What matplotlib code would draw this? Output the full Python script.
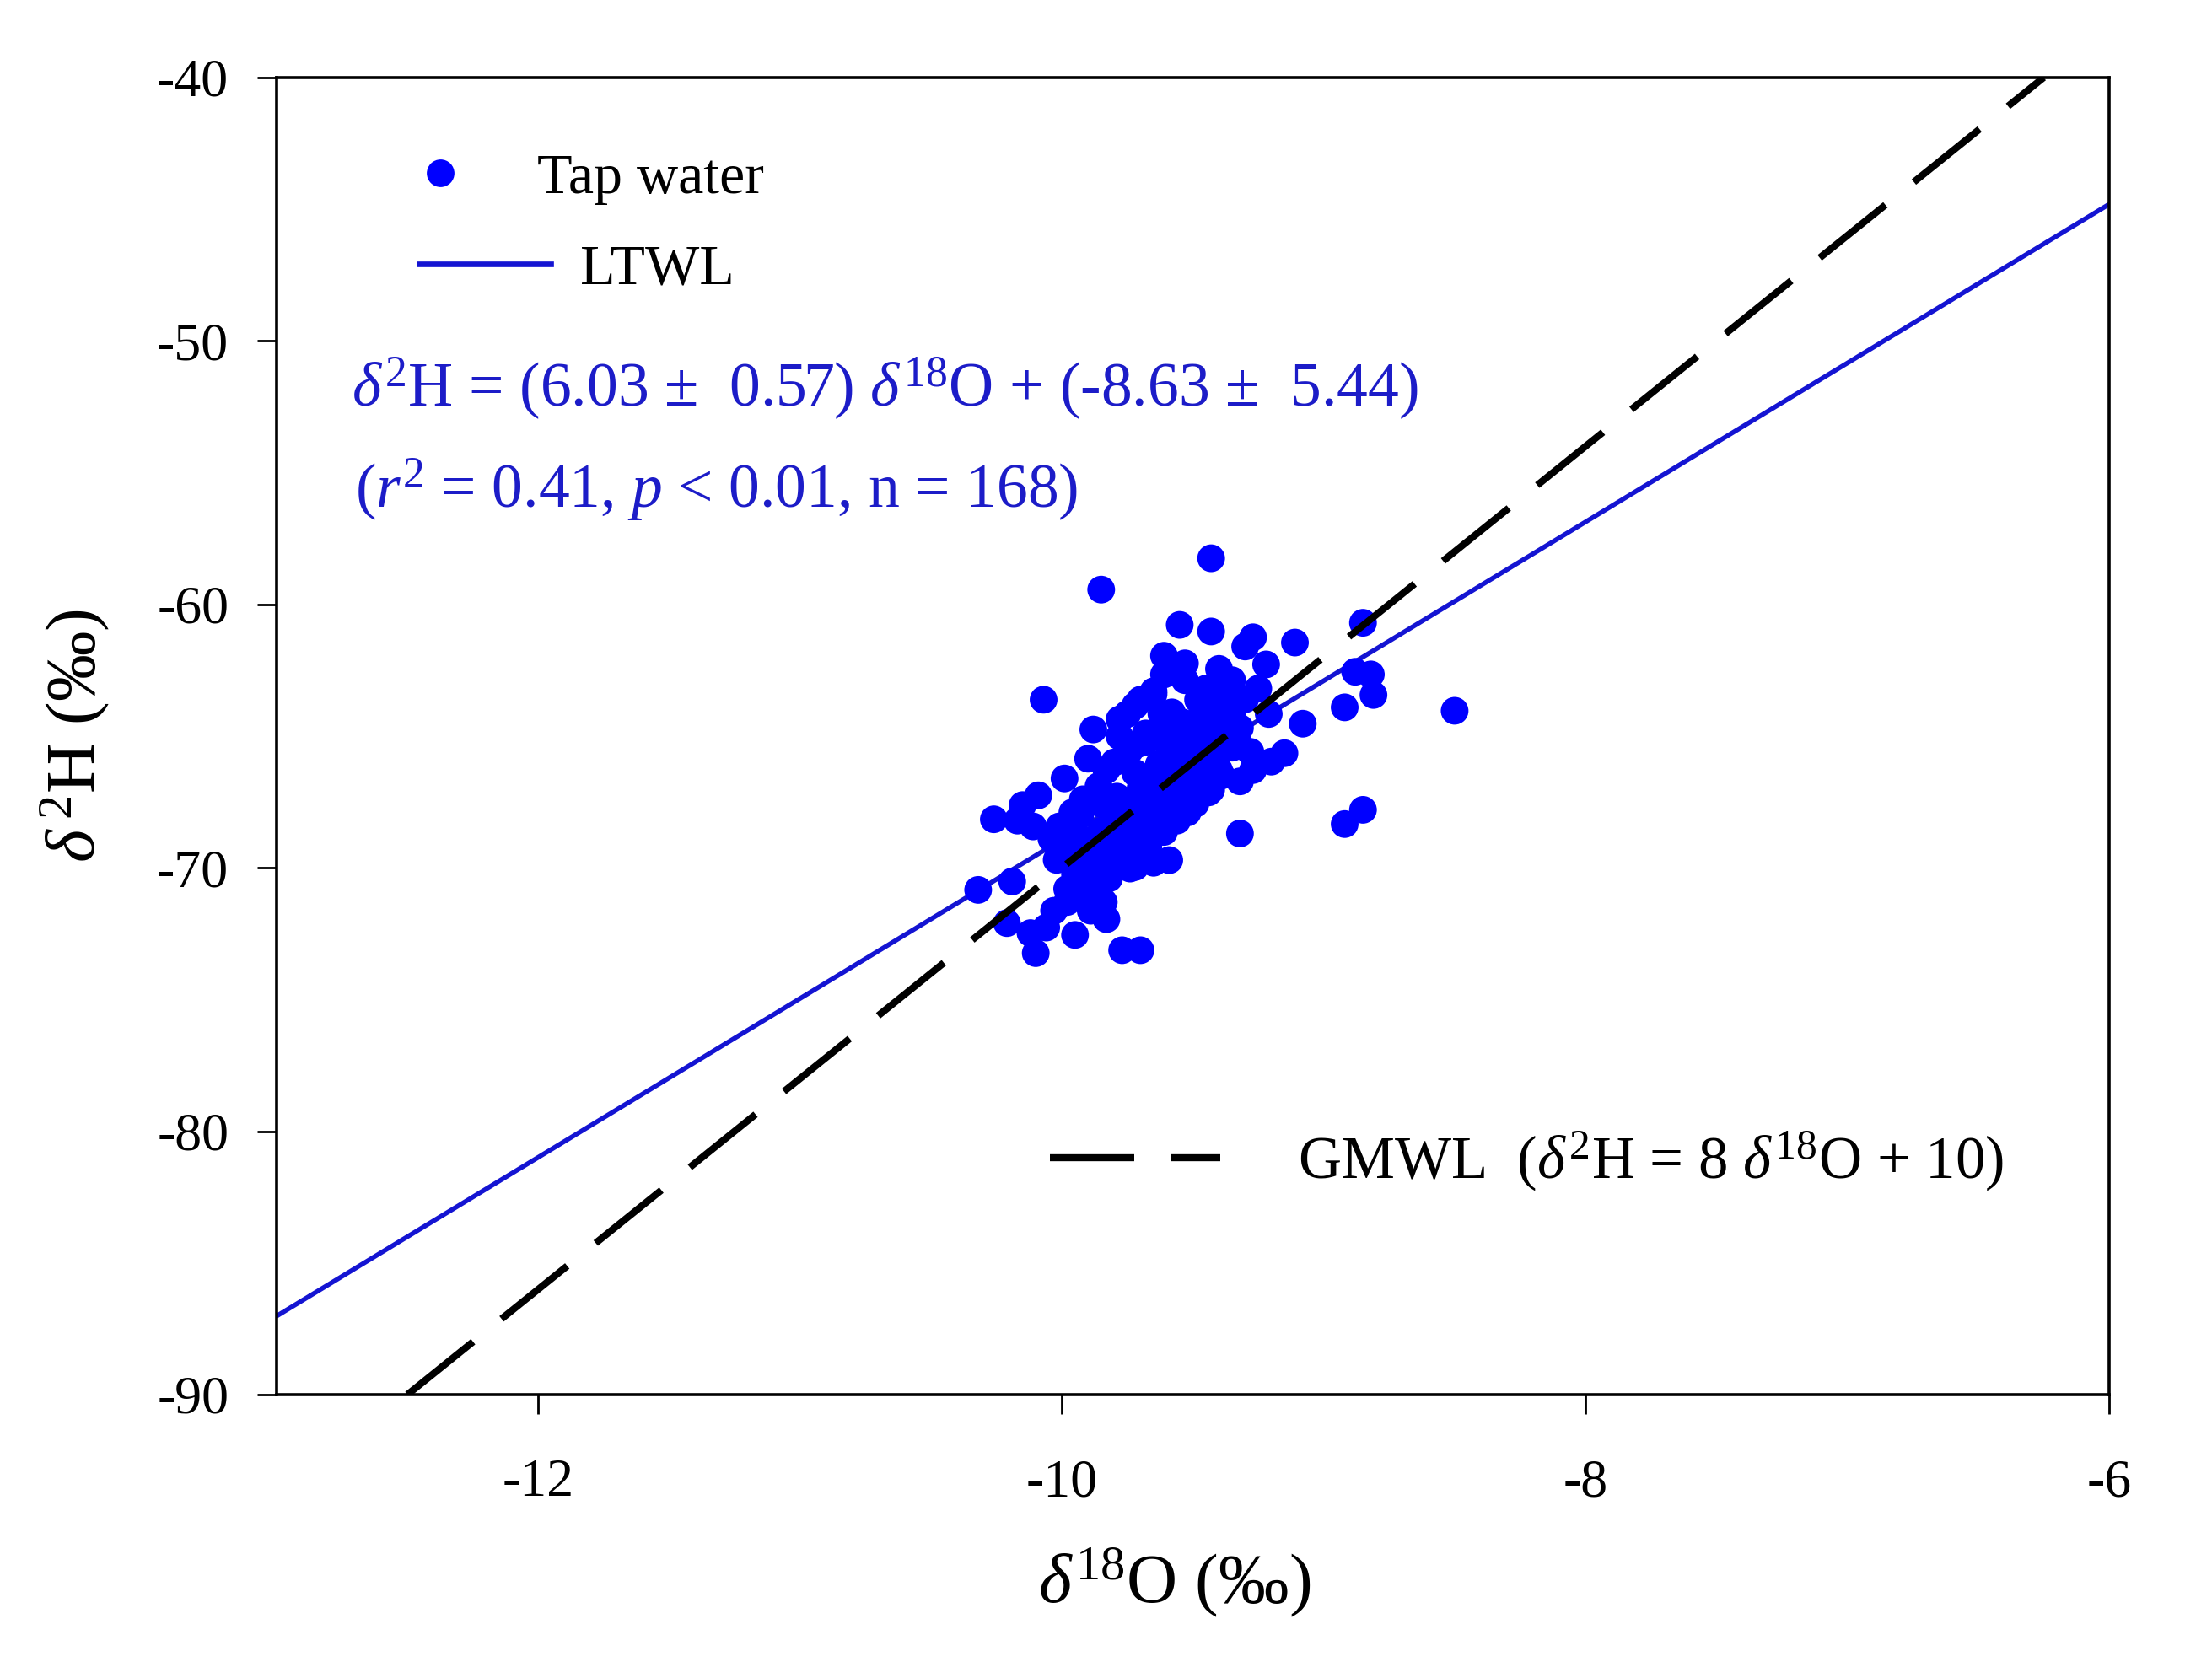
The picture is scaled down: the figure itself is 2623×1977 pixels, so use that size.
import matplotlib
matplotlib.use('Agg')
import matplotlib.pyplot as plt
from matplotlib.lines import Line2D
import numpy as np

plt.rcParams['font.family'] = ['Liberation Serif', 'DejaVu Serif']
plt.rcParams['mathtext.fontset'] = 'custom'
plt.rcParams['mathtext.rm'] = 'Liberation Serif'
plt.rcParams['mathtext.it'] = 'Liberation Serif:italic'
plt.rcParams['axes.unicode_minus'] = False

# tap water samples
d18O = [
    -9.43, -9.85, -9.55, -9.43, -9.27, -9.30, -9.11, -8.85, -9.22, -9.61,
    -10.07, -8.88, -8.82, -8.81, -8.92, -8.50, -9.08, -9.88, -9.32, -8.85,
    -8.92, -10.26, -10.32, -10.19, -10.10, -9.77, -9.70,
    -9.90, -9.99, -10.09, -10.15, -10.12, -10.21, -9.95, -9.83, -9.89,
    -9.59, -9.65, -9.72, -9.78, -9.65, -9.72, -9.78, -9.78, -9.62, -9.56,
    -9.49, -9.42, -9.40, -9.61, -9.53,
    -10.01, -9.93, -9.85, -9.90, -9.95, -9.95, -9.93, -10.03, -10.06, -9.83,
    -9.74, -9.68, -9.63, -9.69, -9.79, -9.55, -9.59, -9.63, -9.69, -9.74,
    -9.79, -9.47, -9.42, -9.39, -9.44, -9.49, -9.56, -9.61, -10.11, -10.17,
    -9.53, -9.40, -9.35, -9.45, -9.48, -9.25, -9.21, -9.15, -9.20, -9.27,
    -9.32, -9.43, -9.50, -9.59, -9.70, -9.65,
    -9.75, -9.68, -9.76, -9.61, -9.54, -9.46, -9.37, -9.32, -9.35, -9.43,
    -9.50, -9.59, -9.72, -9.54, -9.48, -9.40, -9.59, -9.70, -9.64, -9.75,
    -9.74, -9.70,
    -9.90, -9.85, -9.80, -9.75, -9.70, -9.65, -9.60, -9.55, -9.50, -9.45,
    -9.40, -9.35, -9.30, -9.95, -9.88, -9.98, -10.00, -9.97, -9.86, -9.82,
    -9.78, -9.72, -9.68, -9.62, -9.57, -9.52, -9.47, -9.43, -9.38, -9.33,
    -9.28, -9.58, -9.60, -9.71, -9.80, -9.86, -9.92, -9.96, -10.04, -10.02,
    -9.90, -9.84, -9.98, -9.92, -9.82, -9.76, -9.67, -9.52,
]
d2H = [
    -58.25, -59.44, -60.78, -61.03, -61.25, -61.60, -61.45, -60.70, -62.28, -61.95,
    -63.62, -62.56, -62.66, -63.44, -63.91, -64.04, -64.53, -64.75, -68.70, -67.80,
    -68.34, -68.16, -70.84, -70.52, -73.24, -73.13, -73.13,
    -65.86, -66.61, -67.25, -67.62, -72.48, -72.10, -72.55, -71.95, -71.63,
    -69.71, -69.81, -69.97, -69.92, -63.41, -63.84, -64.37, -65.01, -64.16, -64.80,
    -64.48, -63.84, -62.88, -62.66, -62.24,
    -68.43, -68.00, -67.57, -68.96, -69.49, -70.24, -71.09, -71.63, -72.27, -66.29,
    -65.54, -65.22, -66.08, -66.72, -67.30, -66.50, -67.36, -68.00, -68.64, -68.96,
    -69.49, -65.76, -65.22, -66.50, -67.14, -67.57, -68.21, -68.64, -68.43, -68.21,
    -62.88, -62.45, -62.88, -63.20, -63.62, -63.20, -64.16, -65.65, -65.97, -66.29,
    -66.72, -67.04, -67.25, -67.47, -63.62, -63.30,
    -64.16, -64.90, -65.80, -64.48, -64.48, -64.16, -63.84, -64.69, -65.44, -65.54,
    -65.33, -65.44, -66.40, -66.08, -66.40, -66.29, -66.82, -67.36, -67.89, -67.89,
    -70.03, -68.96,
    -69.20, -68.60, -68.30, -67.80, -67.00, -66.50, -65.90, -65.60, -65.00, -64.70,
    -64.30, -64.10, -63.60, -69.90, -70.50, -70.80, -69.10, -68.70, -69.80, -68.90,
    -68.60, -68.20, -67.60, -67.10, -66.90, -66.70, -66.00, -65.90, -65.00, -65.10,
    -65.60, -64.10, -64.80, -65.30, -66.00, -66.90, -67.40, -67.90, -68.90, -69.70,
    -70.90, -71.30, -71.30, -70.60, -70.40, -69.30, -69.20, -67.90,
]

# regression lines
ltwl_slope, ltwl_icpt = 6.03, -8.63
gmwl_slope, gmwl_icpt = 8.0, 10.0

xmin, xmax = -13, -6
ymin, ymax = -90, -40
xticks = [-12, -10, -8, -6]
yticks = [-90, -80, -70, -60, -50, -40]

blue = '#0000ff'
line_blue = '#1414d2'
text_blue = '#1c1cc8'

fig, ax = plt.subplots(figsize=(13.115, 9.885), dpi=200)
fig.subplots_adjust(left=0.125, right=0.9535, bottom=0.1634, top=0.9535)

xl = np.array([xmin, xmax])
ax.plot(xl, ltwl_slope * xl + ltwl_icpt, color=line_blue, lw=2.0, zorder=1.5)

ax.scatter(d18O, d2H, s=140, color=blue, edgecolors='none', zorder=2)

xg = (np.array([ymin, ymax]) - gmwl_icpt) / gmwl_slope
gm, = ax.plot(xg, gmwl_slope * xg + gmwl_icpt, color='black', lw=3.0,
              dashes=(12, 5.2), zorder=3)

ax.set_xlim(xmin, xmax)
ax.set_ylim(ymin, ymax)
ax.set_xticks(xticks)
ax.set_yticks(yticks)
ax.tick_params(direction='out', length=8.4, width=1.0, labelsize=23)
ax.tick_params(axis='x', pad=19)
ax.tick_params(axis='y', pad=12)
for sp in ax.spines.values():
    sp.set_linewidth(1.3)

ax.set_xlabel(r'$\delta^{18}$O (‰)', fontsize=30)
ax.set_ylabel(r'$\delta^{\,2}$H (‰)', fontsize=30)
ax.xaxis.set_label_coords(0.49, -0.115)
ax.yaxis.set_label_coords(-0.09, 0.5)

# legends
h1 = Line2D([], [], ls='none', marker='o', ms=11.8, color=blue, mec='none')
leg1 = ax.legend([h1], ['Tap water'], loc='center left',
                 bbox_to_anchor=(0.0672, 0.9229), frameon=False, fontsize=24.5,
                 borderpad=0, borderaxespad=0, handlelength=1.4, handletextpad=1.0)
ax.add_artist(leg1)
h2 = Line2D([], [], color=line_blue, lw=2.4)
leg2 = ax.legend([h2], ['LTWL'], loc='center left',
                 bbox_to_anchor=(0.0778, 0.8543), frameon=False, fontsize=24.5,
                 borderpad=0, borderaxespad=0, handlelength=2.3, handletextpad=0.5)
ax.add_artist(leg2)
ax.legend([gm], [r'GMWL  ($\delta^{2}$H = 8 $\delta^{18}$O + 10)'], loc='center left',
          bbox_to_anchor=(0.422, 0.1773), frameon=False, fontsize=25.5,
          borderpad=0, borderaxespad=0, handlelength=2.85, handletextpad=1.3)

ax.text(0.041, 0.7503, r'$\delta^{2}$H = (6.03 ±  0.57) $\delta^{18}$O + (-8.63 ±  5.44)',
        transform=ax.transAxes, fontsize=26.5, color=text_blue, ha='left', va='baseline')
ax.text(0.0428, 0.6735, r'($r^2$ = 0.41, $p$ < 0.01, n = 168)',
        transform=ax.transAxes, fontsize=26.5, color=text_blue, ha='left', va='baseline')

fig.savefig('out.png', dpi=200)
